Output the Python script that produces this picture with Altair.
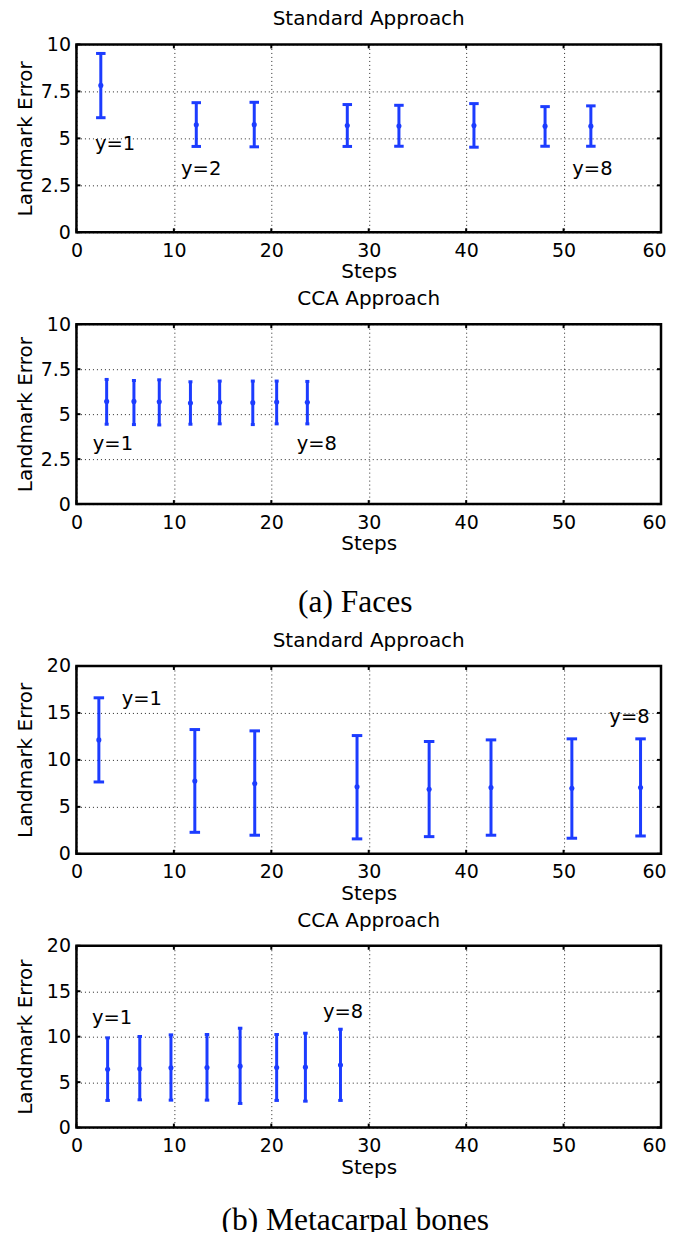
import altair as alt
import pandas as pd

FONT = "DejaVu Sans"
SERIF = "Liberation Serif"
BLUE = "#1c3cff"
FS = 20       # titles
LFS = 19      # tick labels
AFS = 19.5    # annotations
W = 585

# ---------------- data ----------------
x_ticks = [0, 10, 20, 30, 40, 50, 60]
faces_y_ticks = [0, 2.5, 5, 7.5, 10]
bones_y_ticks = [0, 5, 10, 15, 20]

faces_std_x = [2.5, 12.3, 18.25, 27.8, 33.1, 40.8, 48.1, 52.8]
faces_std_mean = [7.82, 5.72, 5.73, 5.68, 5.66, 5.68, 5.65, 5.65]
faces_std_lo = [6.1, 4.57, 4.55, 4.57, 4.58, 4.53, 4.58, 4.58]
faces_std_hi = [9.52, 6.9, 6.92, 6.8, 6.76, 6.85, 6.69, 6.73]

faces_cca_x = [3.1, 5.9, 8.5, 11.7, 14.7, 18.1, 20.55, 23.7]
faces_cca_mean = [5.71, 5.71, 5.69, 5.62, 5.66, 5.64, 5.67, 5.66]
faces_cca_lo = [4.44, 4.42, 4.40, 4.44, 4.46, 4.42, 4.46, 4.46]
faces_cca_hi = [6.93, 6.87, 6.91, 6.8, 6.84, 6.84, 6.84, 6.82]

bones_std_x = [2.3, 12.15, 18.3, 28.8, 36.2, 42.55, 50.85, 57.9]
bones_std_mean = [12.13, 7.76, 7.48, 7.13, 6.88, 7.05, 6.98, 7.05]
bones_std_lo = [7.65, 2.29, 1.98, 1.59, 1.83, 1.98, 1.66, 1.90]
bones_std_hi = [16.61, 13.23, 13.09, 12.59, 11.96, 12.13, 12.24, 12.24]

bones_cca_x = [3.2, 6.5, 9.7, 13.4, 16.8, 20.55, 23.5, 27.1]
bones_cca_mean = [6.41, 6.48, 6.58, 6.61, 6.76, 6.61, 6.65, 6.88]
bones_cca_lo = [2.99, 3.06, 3.02, 3.02, 2.66, 2.99, 2.91, 2.99]
bones_cca_hi = [9.87, 10.02, 10.2, 10.24, 10.93, 10.24, 10.38, 10.82]

faces_std_labels = ["y=1", "y=2", "y=8"]
faces_std_label_x = [1.9, 10.74, 50.9]
faces_std_label_y = [4.36, 3.06, 3.05]

faces_cca_labels = ["y=1", "y=8"]
faces_cca_label_x = [1.68, 22.6]
faces_cca_label_y = [3.0, 3.0]

bones_std_labels = ["y=1", "y=8"]
bones_std_label_x = [4.65, 54.7]
bones_std_label_y = [15.85, 13.9]

bones_cca_labels = ["y=1", "y=8"]
bones_cca_label_x = [1.6, 25.3]
bones_cca_label_y = [11.4, 12.1]

panel_titles = ["Standard Approach", "CCA Approach"]
captions = ["(a) Faces", "(b) Metacarpal bones"]


def panel(title, xs, means, los, his, ymax, yticks, cap, lab, lab_x, lab_y, height):
    df = pd.DataFrame({"step": xs, "mean": means, "lo": los, "hi": his})
    xscale = alt.Scale(domain=[0, 60], nice=False, zero=False, padding=0)
    yscale = alt.Scale(domain=[0, ymax], nice=False, zero=False, padding=0)
    xaxis = alt.Axis(
        values=x_ticks, title="Steps", grid=True, domain=False, ticks=False, tickSize=0,
        labelPadding=24, labelBaseline="alphabetic", labelFlush=False, labelOverlap=False,
        labelOffset={"condition": {"test": "datum.value == 60", "value": -7}, "value": 0},
        format=".6~g", titleY=45.5, titleX=W / 2, titleBaseline="alphabetic", titleAlign="center",
    )
    yaxis = alt.Axis(
        values=yticks, title="Landmark Error", grid=True, domain=False, ticks=False, tickSize=0,
        labelPadding=6, labelFlush=False, labelOverlap=False, format=".6~g",
        titleX=-45, titleY=height / 2, titleBaseline="alphabetic", titleAngle=270,
        titleAlign="center",
    )

    def X(f):
        return alt.X(f"{f}:Q", scale=xscale, axis=xaxis)

    def Y(f):
        return alt.Y(f"{f}:Q", scale=yscale, axis=yaxis)

    base = alt.Chart(df)
    bar = base.mark_rule(color=BLUE, strokeWidth=3).encode(x=X("step"), y=Y("lo"), y2="hi")
    cap_lo = base.mark_tick(color=BLUE, orient="horizontal", size=cap, thickness=3, opacity=1).encode(
        x=X("step"), y=Y("lo"))
    cap_hi = base.mark_tick(color=BLUE, orient="horizontal", size=cap, thickness=3, opacity=1).encode(
        x=X("step"), y=Y("hi"))
    pts = base.mark_point(filled=True, size=26, color=BLUE, opacity=1).encode(x=X("step"), y=Y("mean"))

    ydf = pd.DataFrame({"v": yticks})
    xdf = pd.DataFrame({"v": x_ticks})
    tick_l = alt.Chart(ydf).mark_rule(color="black", strokeWidth=2).encode(
        y=Y("v"), x=alt.value(0), x2=alt.value(4))
    tick_r = alt.Chart(ydf).mark_rule(color="black", strokeWidth=2).encode(
        y=Y("v"), x=alt.value(W - 4), x2=alt.value(W))
    tick_b = alt.Chart(xdf).mark_rule(color="black", strokeWidth=2).encode(
        x=X("v"), y=alt.value(height - 4), y2=alt.value(height))
    tick_t = alt.Chart(xdf).mark_rule(color="black", strokeWidth=2).encode(
        x=X("v"), y=alt.value(0), y2=alt.value(4))

    ldf = pd.DataFrame({"t": lab, "x": lab_x, "y": lab_y})
    text = alt.Chart(ldf).mark_text(
        align="left", baseline="alphabetic", font=FONT, fontSize=AFS, color="black"
    ).encode(x=X("x"), y=Y("y"), text="t:N")

    return alt.layer(tick_l, tick_r, tick_b, tick_t, bar, cap_lo, cap_hi, pts, text).properties(
        width=W, height=height, title=title)


def spacer(h, label="", ypos=0):
    df = pd.DataFrame({"t": [label]})
    return alt.Chart(df).mark_text(
        font=SERIF, fontSize=31.5, align="center", baseline="alphabetic", color="black"
    ).encode(text="t:N", x=alt.value(279), y=alt.value(ypos)).properties(
        width=W, height=h, view=alt.ViewBackground(strokeOpacity=0))


p1 = panel(panel_titles[0], faces_std_x, faces_std_mean, faces_std_lo, faces_std_hi, 10,
           faces_y_ticks, 9.5, faces_std_labels, faces_std_label_x, faces_std_label_y, 188)
p2 = panel(panel_titles[1], faces_cca_x, faces_cca_mean, faces_cca_lo, faces_cca_hi, 10,
           faces_y_ticks, 4, faces_cca_labels, faces_cca_label_x, faces_cca_label_y, 180)
p3 = panel(panel_titles[0], bones_std_x, bones_std_mean, bones_std_lo, bones_std_hi, 20,
           bones_y_ticks, 10.5, bones_std_labels, bones_std_label_x, bones_std_label_y, 188)
p4 = panel(panel_titles[1], bones_cca_x, bones_cca_mean, bones_cca_lo, bones_cca_hi, 20,
           bones_y_ticks, 4.5, bones_cca_labels, bones_cca_label_x, bones_cca_label_y, 182)

chart = alt.vconcat(
    p1, spacer(92), p2, spacer(162, captions[0], 108), p3, spacer(92), p4,
    spacer(100, captions[1], 102),
    spacing=0, bounds="flush",
).properties(
    padding={"left": 5.5, "top": -1, "right": 0, "bottom": -5},
).configure_view(
    stroke="black", strokeWidth=2.5
).configure_axis(
    labelFont=FONT, labelFontSize=LFS, titleFont=FONT, titleFontSize=FS, titleFontWeight="normal",
    labelColor="black", titleColor="black", gridColor="black", gridDash=[1, 3], gridOpacity=0.85,
    gridWidth=1,
).configure_title(
    font=FONT, fontSize=FS, fontWeight="normal", color="black", baseline="alphabetic",
    offset=6, frame="group", anchor="middle",
)

chart.save("out.html", embed_options={"renderer": "svg", "actions": False})
